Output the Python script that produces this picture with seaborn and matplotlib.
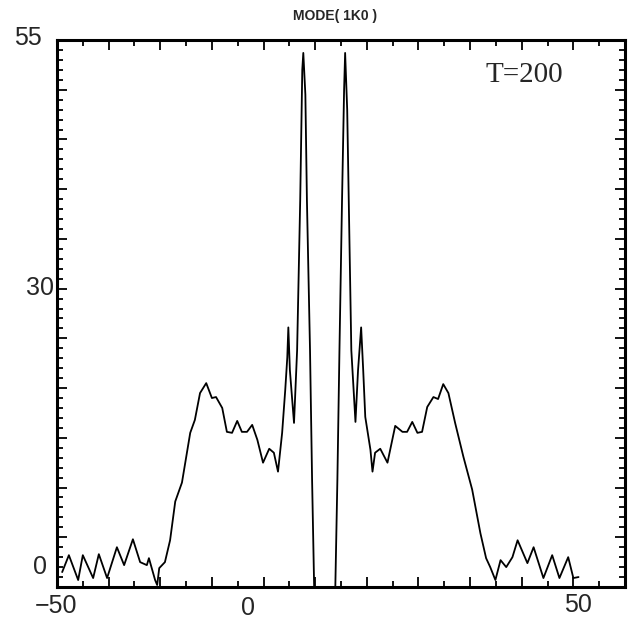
import numpy as np
import pandas as pd
import matplotlib
matplotlib.use('Agg')
import matplotlib.pyplot as plt
from matplotlib.ticker import MultipleLocator
import seaborn as sns

# Mode amplitude profile
x_vals = [-49.0, -47.7, -45.9, -45.0, -43.0, -41.9, -40.3, -38.4, -37.0, -35.3,
          -33.9, -32.6, -32.2, -31.0, -30.6, -30.2, -29.1, -28.1, -27.1, -25.8,
          -24.2, -23.3, -22.3, -21.1, -20.0, -19.2, -18.0, -17.1, -16.1, -15.1,
          -14.2, -13.2, -12.2, -11.2, -10.1, -8.9, -8.0, -7.2, -6.4, -5.8,
          -5.4, -5.2, -4.9, -4.1, -3.5, -2.9, -2.5, -2.3, -1.9, -1.6,
          -1.0, -0.6, -0.2, 3.9, 4.3, 4.7, 5.2, 5.6, 5.8, 6.2,
          6.6, 7.0, 7.8, 8.3, 8.9, 9.3, 9.7, 10.7, 11.1, 11.6,
          12.6, 14.0, 15.5, 16.9, 17.8, 18.8, 19.8, 20.7, 21.7, 22.9,
          23.8, 24.8, 25.8, 27.1, 28.7, 30.4, 32.0, 33.1, 33.9, 34.9,
          35.9, 37.0, 38.2, 39.2, 41.1, 42.3, 44.2, 45.9, 47.3, 49.0,
          50.0, 51.0]
y_vals = [1.5, 3.2, 0.7, 3.2, 0.9, 3.3, 0.9, 4.0, 2.2, 4.8,
          2.5, 2.2, 2.9, 0.7, 0.2, 1.9, 2.5, 4.7, 8.6, 10.5,
          15.5, 16.8, 19.5, 20.5, 19.0, 19.1, 18.0, 15.6, 15.5, 16.7,
          15.6, 15.6, 16.3, 14.8, 12.5, 13.9, 13.5, 11.6, 15.5, 19.8,
          23.1, 26.1, 21.8, 16.5, 23.8, 38.9, 52.0, 53.7, 49.5, 38.9,
          23.8, 10.8, 0.0, 0.0, 10.8, 23.8, 38.9, 50.0, 53.7, 48.0,
          35.9, 23.8, 16.6, 21.8, 26.1, 21.8, 17.1, 13.8, 11.6, 13.5,
          13.9, 12.5, 16.2, 15.6, 15.6, 16.6, 15.5, 15.6, 18.1, 19.1,
          18.9, 20.4, 19.5, 16.5, 13.1, 9.8, 5.4, 2.9, 2.0, 0.7,
          2.7, 2.0, 3.0, 4.7, 2.4, 4.0, 0.9, 3.2, 0.9, 3.0,
          0.9, 1.0]

df = pd.DataFrame({'x': x_vals, 'y': y_vals})

sns.set_style('white')
plt.rcParams['font.family'] = ['Liberation Sans', 'DejaVu Sans']

fig = plt.figure(figsize=(6.35, 6.24), dpi=100)
ax = fig.add_axes([57 / 635, 1 - 587 / 624, (625 - 57) / 635, (587 - 40) / 624])

sns.lineplot(data=df, x='x', y='y', sort=False, color='black', linewidth=1.3, ax=ax)

ax.set_xlim(-50, 60)
ax.set_ylim(0, 55)
ax.set_xlabel('')
ax.set_ylabel('')

# inward ticks on all four sides, no automatic labels
ax.xaxis.set_major_locator(MultipleLocator(10))
ax.xaxis.set_minor_locator(MultipleLocator(5))
ax.yaxis.set_major_locator(MultipleLocator(5))
ax.yaxis.set_minor_locator(MultipleLocator(1))
ax.tick_params(which='both', direction='in', top=True, right=True, bottom=True, left=True,
               labelbottom=False, labelleft=False, color='black')
ax.tick_params(which='major', length=7, width=1.3)
ax.tick_params(which='minor', length=4, width=1.3)
for s in ax.spines.values():
    s.set_color('black')
    s.set_linewidth(2.2)

# hand-placed axis numbers as in the original plotter output
def px(xp, yp):
    return xp / 635, 1 - yp / 624

fs = 18
fig.text(*px(28, 38), '55', fontsize=fs, ha='center', va='center')
fig.text(*px(40, 288), '30', fontsize=fs, ha='center', va='center')
fig.text(*px(40, 567), '0', fontsize=fs, ha='center', va='center')
fig.text(*px(56, 606), '\u221250', fontsize=fs, ha='center', va='center')
fig.text(*px(248, 608), '0', fontsize=fs, ha='center', va='center')
fig.text(*px(578, 605), '50', fontsize=fs, ha='center', va='center')

ax.text(40.5, 51.5, 'T=200', fontsize=21, family='Liberation Serif', ha='center', va='center')

fig.text(*px(335, 16), 'MODE( 1K0 )', fontsize=10, fontweight='bold', ha='center', va='center')

fig.savefig('out.png', dpi=100)
